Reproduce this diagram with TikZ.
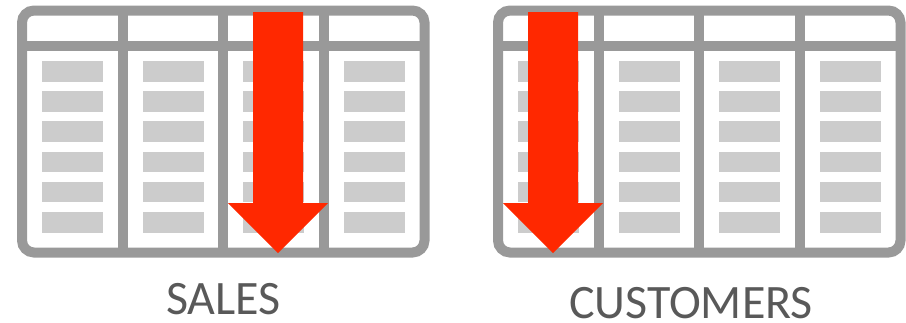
\documentclass[tikz,border=0pt]{standalone}
\usepackage{fontspec}
\setmainfont{Carlito}
\definecolor{FrameClr}{RGB}{153,153,153}
\definecolor{CellClr}{RGB}{204,204,204}
\definecolor{ArrowClr}{RGB}{255,40,0}
\definecolor{TextClr}{RGB}{89,89,89}

\begin{document}
\begin{tikzpicture}[x=1pt,y=-1pt,
  frame/.style={draw=FrameClr,line width=10pt,rounded corners=12pt},
  rule/.style={draw=FrameClr,line width=10pt},
  cell/.style={fill=CellClr},
  bigarrow/.style={fill=ArrowClr},
  caption/.style={text=TextClr,font=\fontsize{48}{48}\selectfont,anchor=base,
    inner sep=0pt,text depth=0pt}]
\useasboundingbox (0,0) rectangle (906,322);

% two tables, the second one shifted
\foreach \dx in {0,476}{
  \foreach \c in {0,...,3}
    \foreach \r in {0,...,5}
      \fill[cell] (42+100.5*\c+\dx,61+30.2*\r) rectangle +(61,20.5);
  \draw[rule] (22+\dx,46) -- (424.5+\dx,46);
  \foreach \c in {1,2,3}
    \draw[rule] (22+100.5*\c+\dx,10.5) -- (22+100.5*\c+\dx,252.5);
  \draw[frame] (22+\dx,10.5) rectangle (424.5+\dx,252.5);
}

% arrows
\foreach \ax in {278,553}
  \fill[bigarrow] (\ax-25,12) -- (\ax+25,12) -- (\ax+25,203) -- (\ax+50,203)
    -- (\ax,253) -- (\ax-50,203) -- (\ax-25,203) -- cycle;

\node[caption] (sales) at (223.5,314) {SALES};
\node[caption] (customers) at (691,318) {CUSTOMERS};

\end{tikzpicture}
\end{document}
